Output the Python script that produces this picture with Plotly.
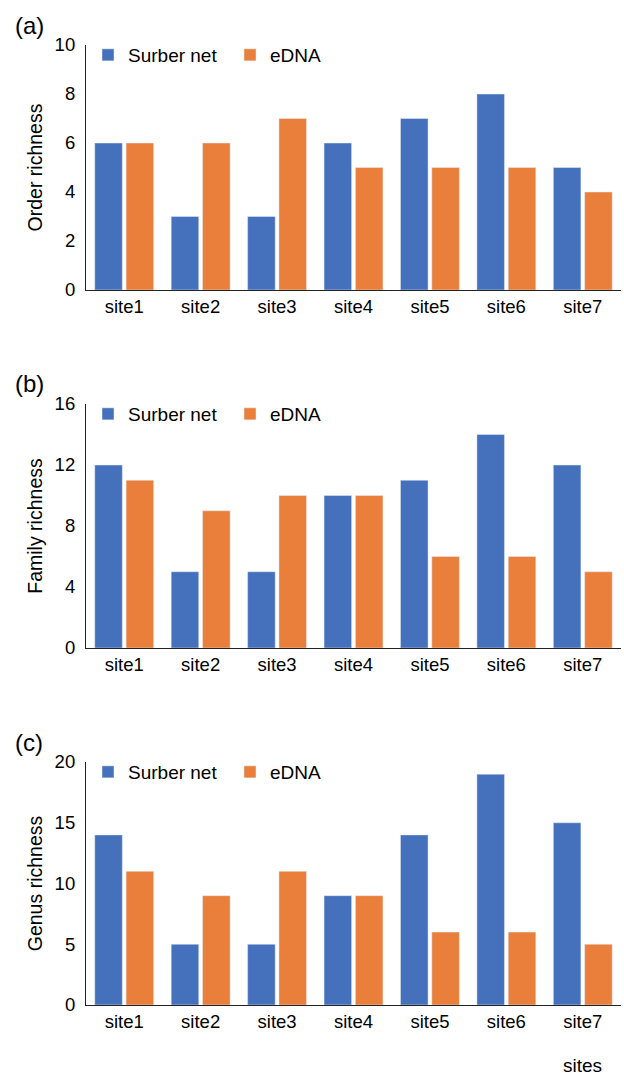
import plotly.graph_objects as go

sites = ["site1", "site2", "site3", "site4", "site5", "site6", "site7"]
order_surber = [6, 3, 3, 6, 7, 8, 5]
order_edna = [6, 6, 7, 5, 5, 5, 4]
family_surber = [12, 5, 5, 10, 11, 14, 12]
family_edna = [11, 9, 10, 10, 6, 6, 5]
genus_surber = [14, 5, 5, 9, 14, 19, 15]
genus_edna = [11, 9, 11, 9, 6, 6, 5]

panels = [
    ("(a)", "Order richness", order_surber, order_edna, [0, 10], 2),
    ("(b)", "Family richness", family_surber, family_edna, [0, 16], 4),
    ("(c)", "Genus richness", genus_surber, genus_edna, [0, 20], 5),
]

BLUE = "#4571BC"
ORANGE = "#E97F3B"
FONT = "Arial, Liberation Sans, Helvetica, sans-serif"
W, H = 624, 1077

# pixel geometry: (top, bottom) of each plot area
px_rows = [(45, 290), (404, 648), (762, 1005)]
x0, x1 = 86, 621

fig = go.Figure()
layout = dict(
    width=W, height=H,
    margin=dict(l=0, r=0, t=0, b=0, autoexpand=False),
    paper_bgcolor="white", plot_bgcolor="white",
    font=dict(family=FONT, color="black", size=18),
    barmode="group", bargap=0.18, bargroupgap=0.12,
    showlegend=True,
)
annotations = []
for i, (lab, ytitle, s_vals, e_vals, yr, dt) in enumerate(panels):
    n = "" if i == 0 else str(i + 1)
    legname = "legend" + n
    fig.add_trace(go.Bar(x=sites, y=s_vals, name="Surber net", marker_color=BLUE,
                         xaxis="x" + n, yaxis="y" + n, legend=legname))
    fig.add_trace(go.Bar(x=sites, y=e_vals, name="eDNA", marker_color=ORANGE,
                         xaxis="x" + n, yaxis="y" + n, legend=legname))
    top, bot = px_rows[i]
    ydom = [1 - bot / H, 1 - top / H]
    layout["xaxis" + n] = dict(
        domain=[x0 / W, x1 / W], anchor="y" + n, type="category",
        range=[-0.5, 6.5], showline=True, linecolor="#222", linewidth=1.2,
        ticks="", showgrid=False, zeroline=False, automargin=False,
        tickfont=dict(size=18.5, color="black"),
    )
    layout["yaxis" + n] = dict(
        domain=ydom, anchor="x" + n, range=yr, dtick=dt, showline=True,
        linecolor="#222", linewidth=1.2, ticks="", showgrid=False, zeroline=False,
        tickfont=dict(size=18.5, color="black"), ticklabelstandoff=6,
        title=dict(text=ytitle, font=dict(size=19.5, color="black"), standoff=6),
    )
    layout[legname] = dict(
        orientation="h", x=88 / W, xanchor="left", y=1 - (top - 9) / H, yanchor="top",
        font=dict(size=19, color="black"), bgcolor="rgba(0,0,0,0)",
        entrywidth=97, entrywidthmode="pixels", traceorder="normal",
    )
    annotations.append(dict(
        text=lab, x=13 / W, xref="paper", xanchor="left",
        y=1 - (top - 20) / H, yref="paper", yanchor="middle",
        showarrow=False, font=dict(size=24, color="black"),
    ))

annotations.append(dict(
    text="sites", x="site7", xref="x3", xanchor="center",
    y=1 - 1065 / H, yref="paper", yanchor="middle",
    showarrow=False, font=dict(size=19, color="black"),
))
layout["annotations"] = annotations
fig.update_layout(**layout)
fig.write_html("out.html")
